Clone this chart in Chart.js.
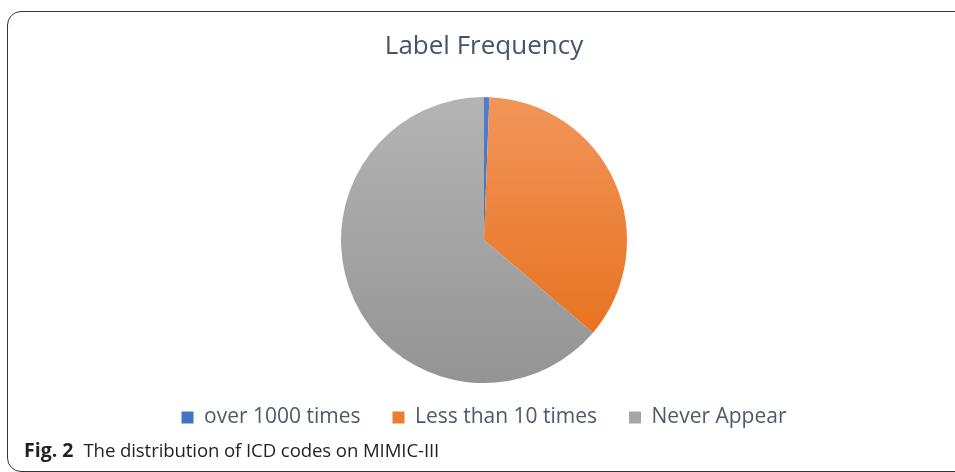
<!DOCTYPE html>
<html>
<head>
<meta charset="utf-8">
<script src="https://cdn.jsdelivr.net/npm/chart.js@4.4.0/dist/chart.umd.min.js"></script>
<style>
  html, body { margin: 0; padding: 0; background: #fff; overflow: hidden; }
  body { width: 955px; height: 472px; position: relative; }
  .frame {
    position: absolute; left: 7px; top: 11px; width: 1000px; height: 459px;
    border: 1.6px solid #333; border-radius: 14px;
  }
  #freqChart { position: absolute; left: 0; top: 0; }
  .caption {
    position: absolute; left: 24px; top: 436px;
    font-family: "Open Sans", sans-serif;
    font-size: 18.6px; color: #231f20; white-space: nowrap; letter-spacing: -0.1px;
  }
  .caption b { font-size: 19.5px; margin-right: 10px; letter-spacing: 0; }
</style>
</head>
<body>
<div class="frame"></div>
<canvas id="freqChart" width="955" height="438"></canvas>
<div class="caption"><b>Fig. 2</b>The distribution of ICD codes on MIMIC-III</div>
<script>
// Share of ICD codes by how often they occur as labels (%)
const categories = ['over 1000 times', 'Less than 10 times', 'Never Appear'];
const shares = [0.6, 35.6, 63.8];

const flatColors = ['#4472C4', '#ED7D31', '#A5A5A5'];
const gradStops = [
  ['#4F7ED0', '#3A66B8'],
  ['#F2955A', '#E46C14'],
  ['#B4B4B4', '#949494']
];
const pieRadius = 143;

// vertical gradient across the pie, like the office-style shading
function sliceFill(context) {
  const chart = context.chart;
  const area = chart.chartArea;
  const i = context.dataIndex;
  if (!area) return flatColors[i];
  const cy = (area.top + area.bottom) / 2;
  const g = chart.ctx.createLinearGradient(0, cy - pieRadius, 0, cy + pieRadius);
  g.addColorStop(0, gradStops[i][0]);
  g.addColorStop(1, gradStops[i][1]);
  return g;
}

new Chart(document.getElementById('freqChart'), {
  type: 'pie',
  data: {
    labels: categories,
    datasets: [{
      data: shares,
      backgroundColor: sliceFill,
      borderWidth: 0,
      radius: pieRadius,
      clip: false
    }]
  },
  options: {
    responsive: false,
    animation: false,
    layout: { padding: { left: 13, right: 0 } },
    plugins: {
      title: {
        display: true,
        text: 'Label Frequency',
        color: '#44546A',
        font: { family: 'Open Sans', size: 26, weight: 'normal', lineHeight: 1.2 },
        padding: { top: 31, bottom: 43 }
      },
      legend: {
        position: 'bottom',
        labels: {
          boxWidth: 12,
          boxHeight: 12,
          padding: 32,
          color: '#4D5A6B',
          font: { family: 'Open Sans', size: 21 },
          generateLabels: (chart) => categories.map((c, i) => ({
            text: c,
            fillStyle: flatColors[i],
            strokeStyle: flatColors[i],
            lineWidth: 0,
            fontColor: '#4D5A6B',
            index: i
          }))
        }
      },
      tooltip: { enabled: false }
    }
  }
});
</script>
</body>
</html>
